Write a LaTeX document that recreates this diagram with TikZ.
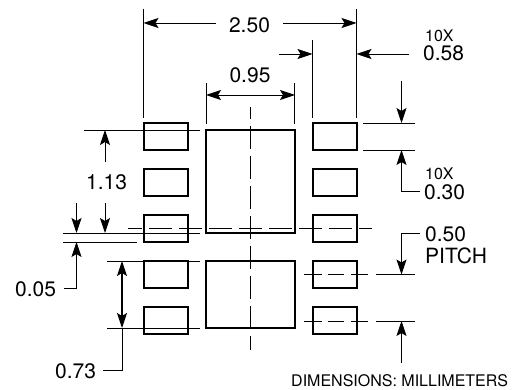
\documentclass[tikz,border=0pt]{standalone}
\usepackage{fontspec}
\setmainfont{TeX Gyre Heros}
\usetikzlibrary{arrows.meta}

\begin{document}
\begin{tikzpicture}[%%
  x=1pt,y=-1pt,%%
  arrowStyle/.style={-{Stealth[length=15pt,width=10pt,inset=3pt]},line width=0.9pt},%%
  doubleStyle/.style={{Stealth[length=15pt,width=10pt,inset=3pt]}-{Stealth[length=15pt,width=10pt,inset=3pt]},line width=1.2pt},%%
  lineStyle/.style={-,line width=0.9pt},%%
  centerStyle/.style={-,line width=0.9pt,dash pattern=on 23pt off 7pt},%%
  padStyle/.style={-,line width=2pt},%%
  labelStyle/.style={inner sep=0pt,anchor=base west,font=\fontsize{21}{21}\selectfont},%%
  countStyle/.style={inner sep=0pt,anchor=base west,font=\fontsize{16}{16}\selectfont},%%
  noteStyle/.style={inner sep=0pt,anchor=base west,font=\fontsize{16}{16}\selectfont}%%
]
%%
\useasboundingbox (0,0) rectangle (512,390);
%%
\pgfmathsetmacro{\padw}{44}   %% width of a pad
\pgfmathsetmacro{\padh}{27}   %% height of a pad
\pgfmathsetmacro{\xleft}{143.5}
\pgfmathsetmacro{\xright}{312.5}
\pgfmathsetmacro{\xpad}{\xleft+\padw}
\pgfmathsetmacro{\xend}{\xright+\padw}
\pgfmathsetmacro{\xdim}{401.5}  %% dimension column on the right
%% The two exposed pads.
\coordinate (upperPadA) at (206,130);
\coordinate (upperPadB) at (294.5,233.5);
\coordinate (lowerPadA) at (206,261);
\coordinate (lowerPadB) at (294.5,328);
%%
%% Draw the pads of both columns.
\foreach \ytop in {123,169,215,261,307} {
  \draw[padStyle] (\xleft,\ytop) rectangle ++(\padw,\padh);
  \draw[padStyle] (\xright,\ytop) rectangle ++(\padw,\padh);
}
%% Draw the exposed pads.
\draw[padStyle] (upperPadA) rectangle (upperPadB);
\draw[padStyle] (lowerPadA) rectangle (lowerPadB);
%%
%% Draw the center lines.
\draw[centerStyle,dash phase=11pt] (250,107) -- (250,350);
\draw[centerStyle,dash phase=9pt] (128,228.5) -- (372,228.5);
\foreach \ycen in {274.5,321} {
  \draw[lineStyle] (304,\ycen) -- (322,\ycen);
  \draw[lineStyle] (328,\ycen) -- (344,\ycen);
  \draw[lineStyle] (351,\ycen) -- (368,\ycen);
  \draw[lineStyle] (376,\ycen) -- (415,\ycen);
}
%%
%% Label the overall width.
\node[labelStyle,anchor=base] (totalLabel) at (249.5,33) {2.50};
\draw[lineStyle] (\xleft,9) -- (\xleft,118);
\draw[lineStyle] (\xend,9) -- (\xend,118);
\draw[arrowStyle] (216,23) -- (\xleft,23);
\draw[arrowStyle] (283,23) -- (\xend,23);
%%
%% Label the width of the exposed pad.
\node[labelStyle,anchor=base] (exposedLabel) at (250,83) {0.95};
\draw[lineStyle] (206,83) -- (206,124);
\draw[lineStyle] (294.5,83) -- (294.5,124);
\draw[arrowStyle] (250,95) -- (206,95);
\draw[arrowStyle] (250,95) -- (295,95);
%%
%% Label the width of a pad.
\node[countStyle] (widthCount) at (425,42) {10X};
\node[labelStyle] (widthLabel) at (423,61) {0.58};
\draw[lineStyle] (\xright,40) -- (\xright,118);
\draw[arrowStyle] (279,54) -- (\xright,54);
\draw[arrowStyle] (409,54) -- (\xend,54);
%%
%% Label the height of a pad.
\node[countStyle] (heightCount) at (425,180) {10X};
\node[labelStyle] (heightLabel) at (424,200) {0.30};
\draw[lineStyle] (363,123) -- (415,123);
\draw[lineStyle] (363,150) -- (415,150);
\draw[arrowStyle] (\xdim,81) -- (\xdim,123);
\draw[arrowStyle] (420,191) -- (\xdim,191) -- (\xdim,150);
%%
%% Label the pitch.
\node[labelStyle] (pitchLabel) at (425,242) {0.50};
\node[labelStyle] (pitchText) at (425,264) {PITCH};
\draw[arrowStyle] (420,233) -- (\xdim,233) -- (\xdim,274.5);
\draw[arrowStyle] (\xdim,363) -- (\xdim,321);
%%
%% Label the left side, from the top down.
\node[labelStyle] (pinLabel) at (86,190) {1.13};
\draw[lineStyle] (84,130) -- (200,130);
\draw[arrowStyle] (105,162) -- (105,130);
\draw[arrowStyle] (105,203) -- (105,233);
%%
\node[labelStyle] (gapLabel) at (15,297) {0.05};
\draw[lineStyle] (63,233) -- (200,233);
\draw[lineStyle] (63,242) -- (137,242);
\draw[arrowStyle] (76.5,203) -- (76.5,233);
\draw[arrowStyle] (64,288) -- (76.5,288) -- (76.5,242);
%%
\node[labelStyle] (lengthLabel) at (55,378) {0.73};
\draw[lineStyle] (107,261) -- (200,261);
\draw[lineStyle] (107,328) -- (200,328);
\draw[doubleStyle] (122,261) -- (122,328);
\draw[lineStyle] (122,328) -- (122,370) -- (103,370);
%%
\node[noteStyle] (unitsNote) at (291,387) {DIMENSIONS: MILLIMETERS};
\end{tikzpicture}
\end{document}
